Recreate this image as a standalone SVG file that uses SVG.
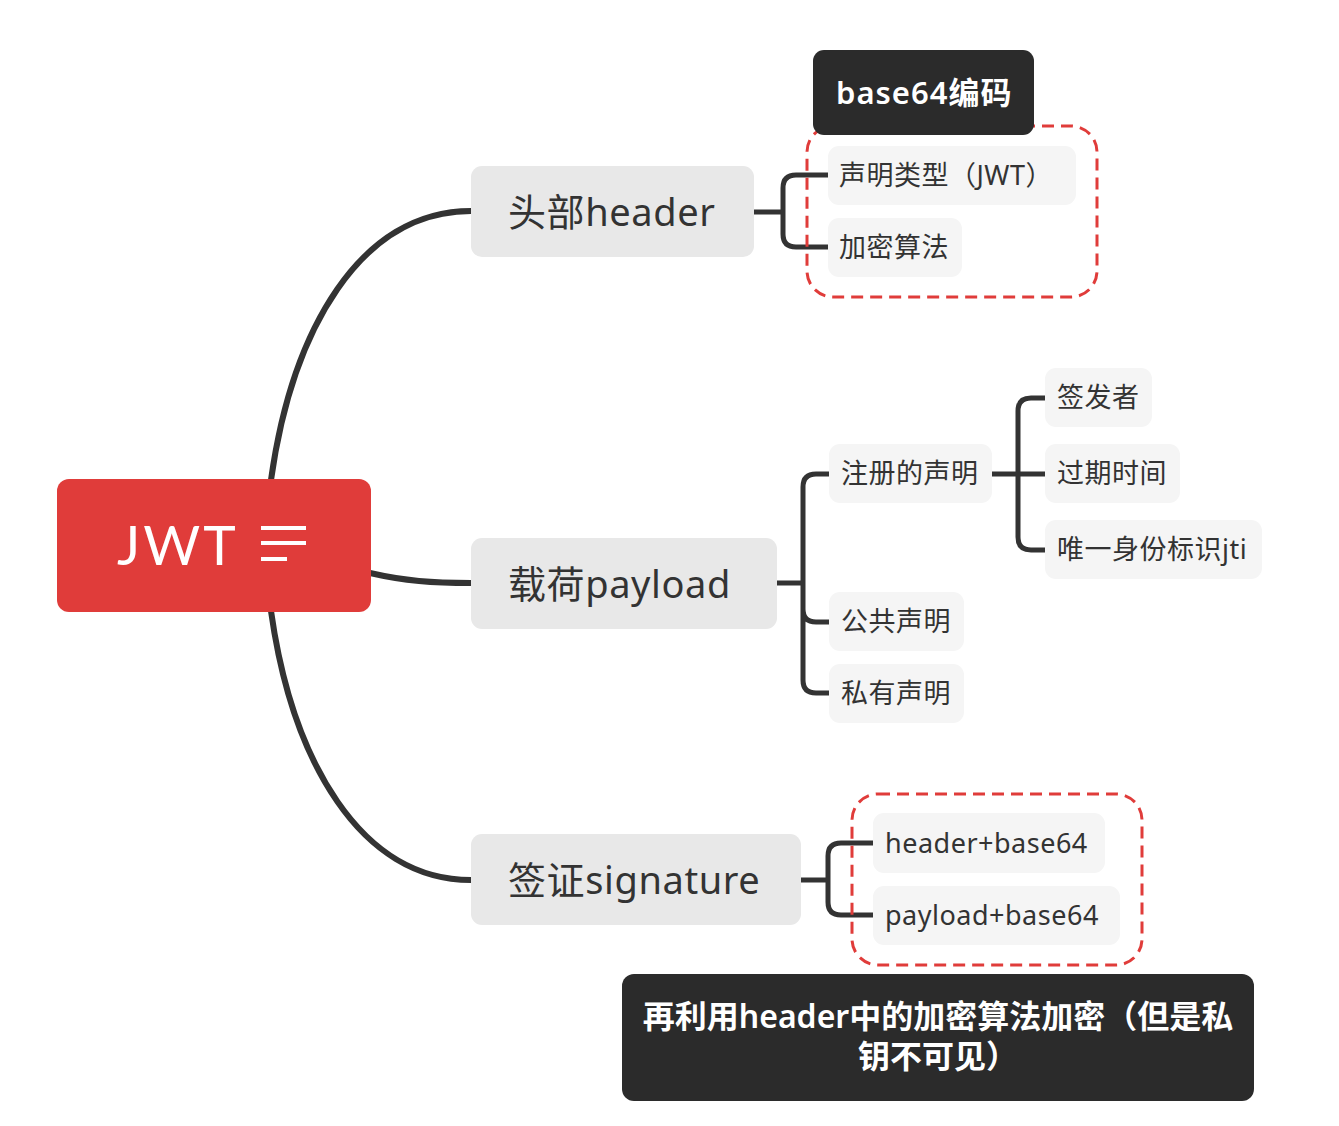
<svg xmlns="http://www.w3.org/2000/svg" width="1339" height="1126" viewBox="0 0 1339 1126">
<style>
.t{font-family:"Noto Sans","Noto Sans CJK SC",sans-serif;fill:#333333}
.m{font-size:38px;letter-spacing:0.6px}
.s{font-size:27px;letter-spacing:0.5px}
.main{fill:#E8E8E8}
.sub{fill:#F5F5F5}
.dark{fill:#2B2B2B}
.w{fill:#FFFFFF}
.ln{fill:none;stroke:#333333;stroke-linecap:butt;stroke-linejoin:round}
.dash{fill:none;stroke:#E03C3A;stroke-width:3;stroke-dasharray:12 7}
</style>
<rect width="1339" height="1126" fill="#FFFFFF"/>
<g id="connectors">
<path class="ln" stroke-width="6" d="M271,480 C292,330 360,211 471,211"/>
<path class="ln" stroke-width="6" d="M370,573 C405,581 432,583 471,583"/>
<path class="ln" stroke-width="6" d="M271,611 C292,760 360,880 471,880"/>
<path class="ln" stroke-width="5" d="M754,212 H783 M828,175 H796 Q783,175 783,188 V234 Q783,247 796,247 H828"/>
<path class="ln" stroke-width="5" d="M777,583 H803 M829,474 H816 Q803,474 803,487 V680 Q803,693 816,693 H829 M803,609 Q803,622 816,622 H829"/>
<path class="ln" stroke-width="5" d="M992,474 H1045 M1045,398 H1031 Q1018,398 1018,411 V537 Q1018,550 1031,550 H1045"/>
<path class="ln" stroke-width="5" d="M801,880 H828 M873,843 H841 Q828,843 828,856 V902 Q828,915 841,915 H873"/>
</g>
<g id="root">
<rect x="57" y="479" width="314" height="133" rx="12" fill="#E03C3A"/>
<text x="117" y="565" font-family="Lato,'Noto Sans',sans-serif" font-size="55" letter-spacing="3" fill="#FFFFFF">JWT</text>
<path d="M261,528 H306 M261,543 H306 M261,559 H287" stroke="#FFFFFF" stroke-width="4"/>
</g>
<g id="header">
<rect class="main" x="471" y="166" width="283" height="91" rx="11"/>
<text class="t m" x="508" y="226">头部header</text>
</g>
<g id="boundary-header">
<rect class="dash" x="807" y="126" width="290" height="171" rx="26"/>
</g>
<g id="header-summary">
<rect class="dark" x="813" y="50" width="221" height="85" rx="11"/>
<text class="t w" x="836" y="104" font-size="31" font-weight="600" letter-spacing="1">base64编码</text>
</g>
<g id="h1">
<rect class="sub" x="828" y="146" width="248" height="59" rx="11"/>
<text class="t s" x="839" y="185">声明类型（JWT）</text>
</g>
<g id="h2">
<rect class="sub" x="828" y="218" width="134" height="59" rx="11"/>
<text class="t s" x="839" y="257">加密算法</text>
</g>
<g id="payload">
<rect class="main" x="471" y="538" width="306" height="91" rx="11"/>
<text class="t m" x="508" y="598">载荷payload</text>
</g>
<g id="p1">
<rect class="sub" x="829" y="444" width="163" height="59" rx="11"/>
<text class="t s" x="841" y="483">注册的声明</text>
</g>
<g id="p11">
<rect class="sub" x="1045" y="368" width="107" height="59" rx="11"/>
<text class="t s" x="1057" y="407">签发者</text>
</g>
<g id="p12">
<rect class="sub" x="1045" y="444" width="135" height="59" rx="11"/>
<text class="t s" x="1057" y="483">过期时间</text>
</g>
<g id="p13">
<rect class="sub" x="1045" y="520" width="217" height="59" rx="11"/>
<text class="t s" x="1057" y="559">唯一身份标识jti</text>
</g>
<g id="p2">
<rect class="sub" x="829" y="592" width="135" height="59" rx="11"/>
<text class="t s" x="841" y="631">公共声明</text>
</g>
<g id="p3">
<rect class="sub" x="829" y="664" width="135" height="59" rx="11"/>
<text class="t s" x="841" y="703">私有声明</text>
</g>
<g id="signature">
<rect class="main" x="471" y="834" width="330" height="91" rx="11"/>
<text class="t m" x="508" y="894">签证signature</text>
</g>
<g id="boundary-signature">
<rect class="dash" x="852" y="794" width="290" height="171" rx="26"/>
</g>
<g id="s1">
<rect class="sub" x="873" y="813" width="232" height="60" rx="11"/>
<text class="t s" x="885" y="853">header+base64</text>
</g>
<g id="s2">
<rect class="sub" x="873" y="886" width="247" height="59" rx="11"/>
<text class="t s" x="885" y="925">payload+base64</text>
</g>
<g id="signature-summary">
<rect class="dark" x="622" y="974" width="632" height="127" rx="12"/>
<text class="t w" x="938" y="1028" font-size="32" font-weight="600" text-anchor="middle">再利用header中的加密算法加密（但是私</text>
<text class="t w" x="938" y="1068" font-size="32" font-weight="600" text-anchor="middle">钥不可见）</text>
</g>
</svg>
